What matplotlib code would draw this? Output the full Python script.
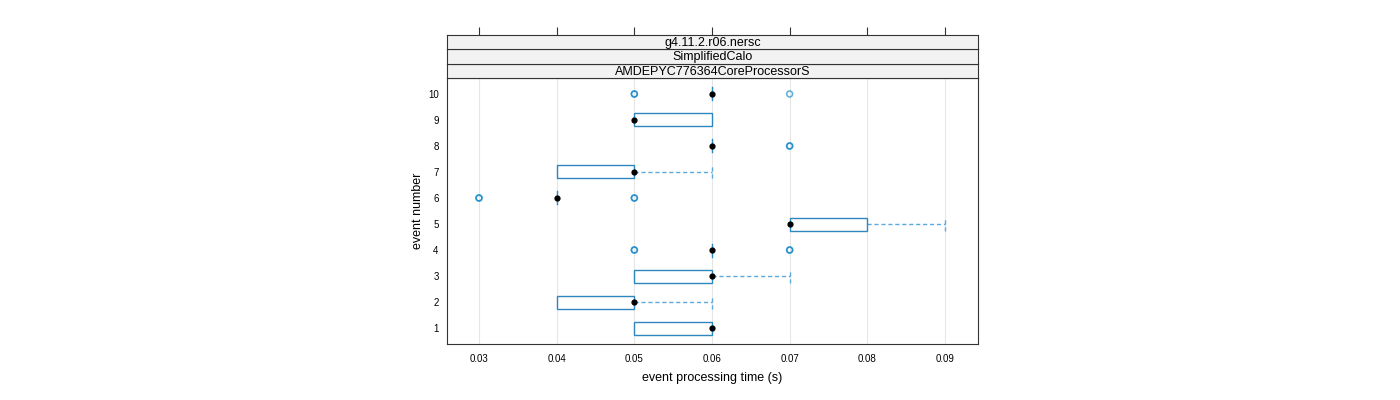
import matplotlib
matplotlib.use("Agg")
import matplotlib.pyplot as plt
from matplotlib.patches import Rectangle

plt.rcParams['font.family'] = ['Liberation Sans', 'DejaVu Sans']

events = [1, 2, 3, 4, 5, 6, 7, 8, 9, 10]
q1 = [0.05, 0.04, 0.05, 0.06, 0.07, 0.04, 0.04, 0.06, 0.05, 0.06]
med = [0.06, 0.05, 0.06, 0.06, 0.07, 0.04, 0.05, 0.06, 0.05, 0.06]
q3 = [0.06, 0.05, 0.06, 0.06, 0.08, 0.04, 0.05, 0.06, 0.06, 0.06]
wlo = [0.05, 0.04, 0.05, 0.06, 0.07, 0.04, 0.04, 0.06, 0.05, 0.06]
whi = [0.06, 0.06, 0.07, 0.06, 0.09, 0.04, 0.06, 0.06, 0.06, 0.06]
outliers = [[], [], [], [0.05, 0.05, 0.07, 0.07], [], [0.03, 0.03, 0.05, 0.05], [],
            [0.07, 0.07], [], [0.05, 0.05, 0.07]]
xticks = [0.03, 0.04, 0.05, 0.06, 0.07, 0.08, 0.09]
strips = ["g4.11.2.r06.nersc", "SimplifiedCalo", "AMDEPYC776364CoreProcessorS"]

BOX = "#2E86C1"
WHISK = "#5DA9DD"
hw = 0.25

fig = plt.figure(figsize=(14, 4), dpi=100)
L, R = 447 / 1400, 978 / 1400
B, T = 1 - 344 / 400, 1 - 78 / 400
ax = fig.add_axes([L, B, R - L, T - B])
ax.set_xlim(0.02588, 0.09425)
ax.set_ylim(0.385, 10.615)

for x in xticks:
    ax.axvline(x, color="#E6E6E6", lw=0.8, zorder=0)

for i, ev in enumerate(events):
    y = ev
    if whi[i] > q3[i]:
        ax.plot([q3[i], whi[i]], [y, y], ls=(0, (3, 2)), color=WHISK, lw=1, zorder=2)
        ax.plot([whi[i], whi[i]], [y - hw, y + hw], ls=(0, (3, 2)), color=WHISK, lw=1, zorder=2)
    if wlo[i] < q1[i]:
        ax.plot([wlo[i], q1[i]], [y, y], ls=(0, (3, 2)), color=WHISK, lw=1, zorder=2)
        ax.plot([wlo[i], wlo[i]], [y - hw, y + hw], ls=(0, (3, 2)), color=WHISK, lw=1, zorder=2)
    if q3[i] > q1[i]:
        ax.add_patch(Rectangle((q1[i], y - hw), q3[i] - q1[i], 2 * hw, fill=False,
                               ec=BOX, lw=1, zorder=3))
    else:
        ax.plot([q1[i], q1[i]], [y - hw, y + hw], color=BOX, lw=1, zorder=3)
    if outliers[i]:
        ax.scatter(outliers[i], [y] * len(outliers[i]), s=18, facecolors="none",
                   edgecolors="#0080C0", linewidths=1.2, alpha=0.6, zorder=4)
    ax.scatter([med[i]], [y], s=12, color="black", zorder=5)

ax.set_xticks(xticks)
ax.set_xticklabels([f"{x:.2f}" for x in xticks], fontsize=7)
ax.set_yticks(events)
ax.set_yticklabels([str(e) for e in events], fontsize=7)
ax.tick_params(axis="x", length=0, pad=7)
ax.tick_params(axis="y", length=0, pad=6)
for sp in ax.spines.values():
    sp.set_color("#333333")
    sp.set_linewidth(0.8)
ax.set_xlabel("event processing time (s)", fontsize=9, labelpad=6)
ax.set_ylabel("event number", fontsize=9, labelpad=3)

edges = [78, 64, 49, 35]
for k, label in enumerate(reversed(strips)):
    y0 = 1 - edges[k] / 400
    y1 = 1 - edges[k + 1] / 400
    sax = fig.add_axes([L, y0, R - L, y1 - y0])
    sax.set_facecolor("#F2F2F2")
    sax.set_xlim(ax.get_xlim())
    sax.set_xticks([])
    sax.set_yticks([])
    for sp in sax.spines.values():
        sp.set_color("#333333")
        sp.set_linewidth(0.8)
    sax.text(0.5, 0.45, label, ha="center", va="center", fontsize=9,
             transform=sax.transAxes)
    if k == 2:
        sax.set_xticks(xticks)
        sax.xaxis.tick_top()
        sax.set_xticklabels([])
        sax.tick_params(axis="x", direction="out", length=6, width=0.8, color="#333333")

fig.savefig("out.png", dpi=100)
